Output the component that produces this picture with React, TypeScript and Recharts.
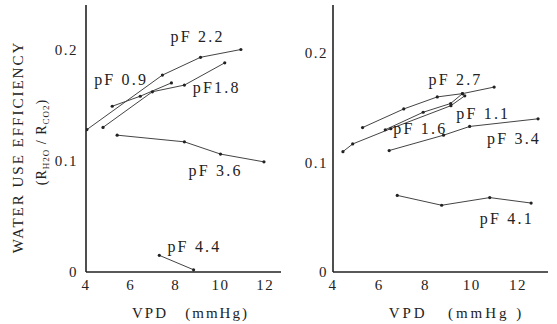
import { LineChart, Line, XAxis, YAxis, ReferenceDot } from 'recharts'

// ticks
const vpdTicks = [4, 6, 8, 10, 12]
const wueTicks = [0, 0.1, 0.2]

// left panel
const vpdPF22 = [4.04, 7.41, 9.11, 10.91]
const wuePF22 = [0.128, 0.177, 0.193, 0.2]
const vpdPF09 = [5.17, 6.42, 7.81]
const wuePF09 = [0.149, 0.158, 0.17]
const vpdPF18 = [4.76, 6.96, 8.39, 10.19]
const wuePF18 = [0.13, 0.162, 0.168, 0.188]
const vpdPF36 = [5.39, 8.39, 10.0, 11.94]
const wuePF36 = [0.123, 0.117, 0.106, 0.099]
const vpdPF44 = [7.27, 8.8]
const wuePF44 = [0.015, 0.002]

// right panel
const vpdPF27 = [5.28, 7.06, 8.51, 9.6, 10.97]
const wuePF27 = [0.132, 0.149, 0.16, 0.163, 0.169]
const vpdPF16 = [6.26, 7.9, 9.09, 9.6]
const wuePF16 = [0.13, 0.146, 0.154, 0.163]
const vpdPF11 = [4.43, 4.85, 6.5, 9.1, 9.7]
const wuePF11 = [0.11, 0.117, 0.131, 0.152, 0.161]
const vpdPF34 = [6.43, 8.78, 9.91, 12.87]
const wuePF34 = [0.111, 0.125, 0.133, 0.14]
const vpdPF41 = [6.78, 8.7, 10.78, 12.57]
const wuePF41 = [0.07, 0.061, 0.068, 0.063]

const zip = (xs: number[], ys: number[]) => xs.map((x, i) => ({ x, y: ys[i] }))

const leftSeries = [
  { name: 'pF 2.2', data: zip(vpdPF22, wuePF22) },
  { name: 'pF 0.9', data: zip(vpdPF09, wuePF09) },
  { name: 'pF1.8', data: zip(vpdPF18, wuePF18) },
  { name: 'pF 3.6', data: zip(vpdPF36, wuePF36) },
  { name: 'pF 4.4', data: zip(vpdPF44, wuePF44) },
]
const rightSeries = [
  { name: 'pF 2.7', data: zip(vpdPF27, wuePF27) },
  { name: 'pF 1.6', data: zip(vpdPF16, wuePF16) },
  { name: 'pF 1.1', data: zip(vpdPF11, wuePF11) },
  { name: 'pF 3.4', data: zip(vpdPF34, wuePF34) },
  { name: 'pF 4.1', data: zip(vpdPF41, wuePF41) },
]

// where the pF names sit (data units)
const leftLabelPos = [
  [8.98, 0.212], [5.57, 0.173], [9.83, 0.166], [9.78, 0.091], [8.84, 0.023],
]
const rightLabelPos = [
  [9.3, 0.176], [7.78, 0.131], [10.5, 0.145], [11.83, 0.122], [11.52, 0.049],
]

const FONT = '"Liberation Serif", "DejaVu Serif", serif'
const INK = '#222'

const tickStyle = { fill: INK, fontSize: 15, fontFamily: FONT, letterSpacing: 1.5 }

const Dot = (props: any) => {
  const { cx, cy } = props
  if (cx == null || cy == null) return null
  return <circle cx={cx} cy={cy} r={1.6} fill={INK} />
}

const XTitle = ({ shift, text, spacing }: { shift: number; text: string; spacing: number }) => (props: any) => {
  const vb = props.viewBox || {}
  return (
    <text
      x={vb.x + vb.width / 2 + shift}
      y={vb.y + 46}
      textAnchor="middle"
      fill={INK}
      fontSize={15}
      fontFamily={FONT}
      letterSpacing={spacing}
      style={{ whiteSpace: 'pre' }}
    >
      {text}
    </text>
  )
}

const YTitle = () => (
  <g fill={INK} fontFamily={FONT}>
    <text
      transform="translate(23,147) rotate(-90)"
      textAnchor="middle"
      fontSize={15}
      letterSpacing={2}
    >
      WATER USE EFFICIENCY
    </text>
    <text transform="translate(46,142) rotate(-90)" textAnchor="middle" fontSize={14} letterSpacing={1}>
      (R<tspan fontSize={9} dy={3}>H2O</tspan>
      <tspan dy={-3}> / R</tspan>
      <tspan fontSize={9} dy={3}>CO2</tspan>
      <tspan dy={-3}>)</tspan>
    </text>
  </g>
)

const Panel = ({
  series,
  labelPos,
  width,
  yAxisWidth,
  xMax,
  yMax,
  tickGap,
  title,
  withTitle,
}: {
  series: { name: string; data: { x: number; y: number }[] }[]
  labelPos: number[][]
  width: number
  yAxisWidth: number
  xMax: number
  yMax: number
  tickGap: number
  title: { shift: number; text: string; spacing: number }
  withTitle: boolean
}) => (
  <LineChart width={width} height={324} margin={{ top: 5, right: 9, left: 0, bottom: 0 }}>
    <XAxis
      type="number"
      dataKey="x"
      domain={[4, xMax]}
      ticks={vpdTicks}
      allowDataOverflow
      height={52}
      tick={tickStyle}
      tickLine={false}
      tickSize={5}
      axisLine={{ stroke: INK, strokeWidth: 1.3 }}
      label={{ content: XTitle(title) }}
    />
    <YAxis
      type="number"
      dataKey="y"
      domain={[0, yMax]}
      ticks={wueTicks}
      allowDataOverflow
      width={yAxisWidth}
      tick={tickStyle}
      tickLine={false}
      tickSize={tickGap}
      tickFormatter={(v: number) => (v === 0 ? '0' : v.toFixed(1))}
      axisLine={{ stroke: INK, strokeWidth: 1.6 }}
      label={withTitle ? { content: () => <YTitle /> } : undefined}
    />
    {series.map((s) => (
      <Line
        key={s.name}
        data={s.data}
        dataKey="y"
        type="linear"
        stroke="#444"
        strokeWidth={1}
        dot={<Dot />}
        activeDot={false}
        isAnimationActive={false}
      />
    ))}
    {series.map((s, i) => (
      <ReferenceDot
        key={'lbl' + s.name}
        x={labelPos[i][0]}
        y={labelPos[i][1]}
        r={0}
        fill="none"
        stroke="none"
        label={{
          value: s.name,
          position: 'center',
          fill: INK,
          fontSize: 16,
          fontFamily: FONT,
          letterSpacing: 2.2,
        }}
      />
    ))}
  </LineChart>
)

export default function App() {
  return (
    <div
      style={{
        position: 'absolute',
        left: 0,
        top: 0,
        width: 557,
        height: 324,
        background: '#fff',
        overflow: 'hidden',
      }}
    >
      <div style={{ position: 'absolute', left: 0, top: 0 }}>
        <Panel
          series={leftSeries}
          labelPos={leftLabelPos}
          width={290}
          yAxisWidth={86}
          xMax={12.7}
          yMax={0.24}
          tickGap={6}
          title={{ shift: 7, text: 'VPD   (mmHg)', spacing: 2 }}
          withTitle
        />
      </div>
      <div style={{ position: 'absolute', left: 290, top: 0 }}>
        <Panel
          series={rightSeries}
          labelPos={rightLabelPos}
          width={267}
          yAxisWidth={43}
          xMax={13.3}
          yMax={0.244}
          tickGap={3}
          title={{ shift: 16, text: 'VPD   (mmHg )', spacing: 3 }}
          withTitle={false}
        />
      </div>
    </div>
  )
}
